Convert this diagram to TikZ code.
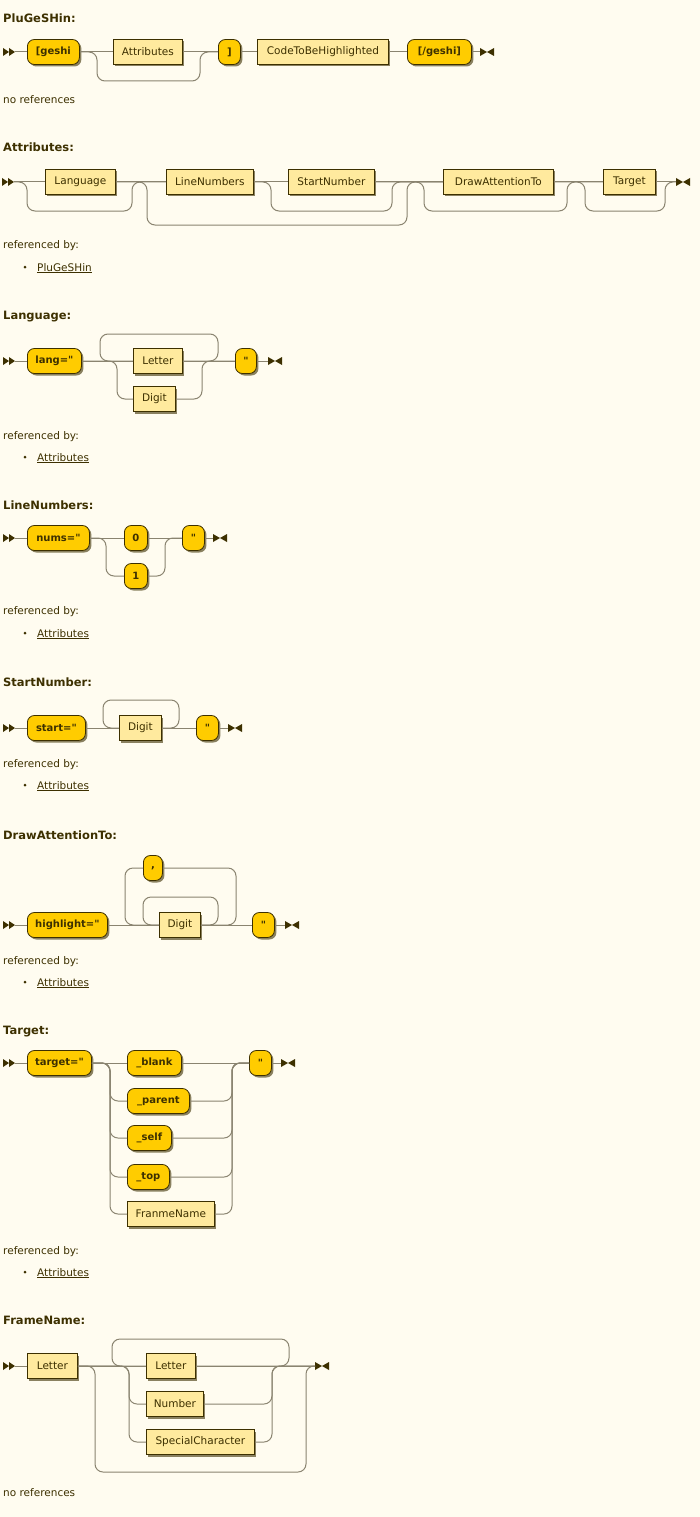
\documentclass[tikz,border=0pt]{standalone}
\usepackage{fontspec}
\newfontfamily\rrfont{DejaVu Sans}
\usetikzlibrary{shadows}
\definecolor{paper}{HTML}{FFFCF0}
\definecolor{ink}{HTML}{3D3000}
\definecolor{gold}{HTML}{FFCC00}
\definecolor{pale}{HTML}{FFEA9E}
\definecolor{railc}{HTML}{8A8470}
\begin{document}
\begin{tikzpicture}[x=1pt,y=-1pt,
  box/.style={draw=ink,line width=.8pt,minimum height=25,inner sep=0pt,anchor=west,text=ink,
    drop shadow={shadow xshift=2pt,shadow yshift=-2pt,fill=ink,opacity=.6}},
  term/.style={box,fill=gold,rounded corners=7pt,font=\rrfont\fontsize{10}{12}\selectfont\bfseries},
  nont/.style={box,fill=pale,font=\rrfont\fontsize{10.5}{12}\selectfont},
  rail/.style={railc,line width=1pt,rounded corners=8pt},
  title/.style={anchor=base west,inner sep=0pt,text=ink,font=\rrfont\fontsize{11.5}{13}\selectfont\bfseries},
  note/.style={anchor=base west,inner sep=0pt,text=ink,font=\rrfont\fontsize{10.5}{12}\selectfont},
  dot/.style={circle,fill=ink,inner sep=0pt,minimum size=3},
  startmark/.pic={\fill[ink] (0,-4) -- (6,0) -- (0,4) -- cycle (6,-4) -- (12,0) -- (6,4) -- cycle;},
  endmark/.pic={\fill[ink] (0,-4) -- (7,0) -- (0,4) -- cycle (14,-4) -- (7,0) -- (14,4) -- cycle;}]
\fill[paper] (0,0) rectangle (700,1517);
\useasboundingbox (0,0) rectangle (700,1517);

% PluGeSHin
\node[title] (t1) at (3,23) {PluGeSHin:};
\pic at (3,52) {startmark};
\coordinate (s1) at (15,52);
\node[term,minimum width=52] (geshi) at (27,52) {[geshi};
\node[nont,minimum width=69] (attr) at (113,52) {Attributes};
\node[term,minimum width=22] (rbr) at (218,52) {]};
\node[nont,minimum width=131] (code) at (257,52) {CodeToBeHighlighted};
\node[term,minimum width=64] (egeshi) at (407,52) {[/geshi]};
\pic at (480,52) {endmark};
\coordinate (e1) at (480,52);
\draw[rail] (s1) -- (geshi.west) (geshi.east) -- (attr.west) (attr.east) -- (rbr.west)
  (rbr.east) -- (code.west) (code.east) -- (egeshi.west) (egeshi.east) -- (e1);
\draw[rail] (geshi.east) -| (97,81) -| (200,52) -- (rbr.west);
\node[note] (n1) at (3,104) {no references};

% Attributes
\node[title] (t2) at (3,152) {Attributes:};
\pic at (2,182) {startmark};
\coordinate (s2) at (14,182);
\node[nont,minimum width=70] (lang) at (45,182) {Language};
\node[nont,minimum width=87] (nums) at (166,182) {LineNumbers};
\node[nont,minimum width=86] (start) at (288,182) {StartNumber};
\node[nont,minimum width=110] (dat) at (443,182) {DrawAttentionTo};
\node[nont,minimum width=52] (tgt) at (603,182) {Target};
\pic at (676,182) {endmark};
\coordinate (e2) at (676,182);
\draw[rail] (s2) -- (lang.west) (lang.east) -- (nums.west) (nums.east) -- (start.west)
  (start.east) -- (dat.west) (dat.east) -- (tgt.west) (tgt.east) -- (e2);
\draw[rail] (s2) -| (27,211) -| (132,182) -- (nums.west);
\draw[rail] (lang.east) -| (147,225) -| (407,182) -- (dat.west);
\draw[rail] (nums.east) -| (271,211) -| (392,182) -- (dat.west);
\draw[rail] (start.east) -| (424,211) -| (567,182) -- (tgt.west);
\draw[rail] (dat.east) -| (585,211) -| (665,182) -- (e2);
\node[note] (n2) at (3,248) {referenced by:};
\node[dot] (b2) at (25,267) {};
\node[note] (l2) at (37,271) {\underline{PluGeSHin}};

% Language
\node[title] (t3) at (3,319) {Language:};
\pic at (3,361) {startmark};
\coordinate (s3) at (15,361);
\node[term,minimum width=54] (langq) at (27,361) {lang="};
\node[nont,minimum width=49] (letter) at (133,361) {Letter};
\node[nont,minimum width=42] (digit) at (133,399) {Digit};
\node[term,minimum width=21] (q3) at (235,361) {"};
\pic at (268,361) {endmark};
\coordinate (e3) at (268,361);
\draw[rail] (s3) -- (langq.west) (langq.east) -- (letter.west) (letter.east) -- (q3.west) (q3.east) -- (e3);
\draw[rail] (langq.east) -| (117,399) -- (digit.west);
\draw[rail] (digit.east) -| (202,361) -- (q3.west);
\draw[rail] (letter.east) -| (218,334) -| (100,361) -- (letter.west);
\node[note] (n3) at (3,439) {referenced by:};
\node[dot] (b3) at (25,457) {};
\node[note] (l3) at (37,461) {\underline{Attributes}};

% LineNumbers
\node[title] (t4) at (3,509) {LineNumbers:};
\pic at (3,538) {startmark};
\coordinate (s4) at (15,538);
\node[term,minimum width=62] (numsq) at (27,538) {nums="};
\node[term,minimum width=23] (zero) at (124,538) {0};
\node[term,minimum width=23] (one) at (124,576) {1};
\node[term,minimum width=22] (q4) at (182,538) {"};
\pic at (213,538) {endmark};
\coordinate (e4) at (213,538);
\draw[rail] (s4) -- (numsq.west) (numsq.east) -- (zero.west) (zero.east) -- (q4.west) (q4.east) -- (e4);
\draw[rail] (numsq.east) -| (106,576) -- (one.west);
\draw[rail] (one.east) -| (165,538) -- (q4.west);
\node[note] (n4) at (3,614) {referenced by:};
\node[dot] (b4) at (25,633) {};
\node[note] (l4) at (37,637) {\underline{Attributes}};

% StartNumber
\node[title] (t5) at (3,686) {StartNumber:};
\pic at (3,728) {startmark};
\coordinate (s5) at (15,728);
\node[term,minimum width=58] (startq) at (27,728) {start="};
\node[nont,minimum width=42] (sdigit) at (119,728) {Digit};
\node[term,minimum width=22] (q5) at (196,728) {"};
\pic at (228,728) {endmark};
\coordinate (e5) at (228,728);
\draw[rail] (s5) -- (startq.west) (startq.east) -- (sdigit.west) (sdigit.east) -- (q5.west) (q5.east) -- (e5);
\draw[rail] (sdigit.east) -| (179,700) -| (103,728) -- (sdigit.west);
\node[note] (n5) at (3,767) {referenced by:};
\node[dot] (b5) at (25,785) {};
\node[note] (l5) at (37,789) {\underline{Attributes}};

% DrawAttentionTo
\node[title] (t6) at (3,839) {DrawAttentionTo:};
\pic at (3,925) {startmark};
\coordinate (s6) at (15,925);
\node[term,minimum width=80] (hq) at (27,925) {highlight="};
\node[nont,minimum width=41] (ddigit) at (159,925) {Digit};
\node[term,minimum width=19] (comma) at (143,868) {,};
\node[term,minimum width=22] (q6) at (252,925) {"};
\pic at (285,925) {endmark};
\coordinate (e6) at (285,925);
\draw[rail] (s6) -- (hq.west) (hq.east) -- (ddigit.west) (ddigit.east) -- (q6.west) (q6.east) -- (e6);
\draw[rail] (ddigit.east) -| (236,868) -- (comma.east);
\draw[rail] (comma.west) -| (125,925) -- (ddigit.west);
\draw[rail] (ddigit.east) -| (218,897) -| (143,925) -- (ddigit.west);
\node[note] (n6) at (3,964) {referenced by:};
\node[dot] (b6) at (25,982) {};
\node[note] (l6) at (37,986) {\underline{Attributes}};

% Target
\node[title] (t7) at (3,1034) {Target:};
\pic at (3,1063) {startmark};
\coordinate (s7) at (15,1063);
\node[term,minimum width=64] (tq) at (27,1063) {target="};
\node[term,minimum width=54] (blank) at (127,1063) {\_blank};
\node[term,minimum width=62] (parent) at (127,1101) {\_parent};
\node[term,minimum width=44] (self) at (127,1138) {\_self};
\node[term,minimum width=42] (top) at (127,1177) {\_top};
\node[nont,minimum width=87] (fname) at (127,1214) {FranmeName};
\node[term,minimum width=22] (q7) at (249,1063) {"};
\pic at (281,1063) {endmark};
\coordinate (e7) at (281,1063);
\draw[rail] (s7) -- (tq.west) (tq.east) -- (blank.west) (blank.east) -- (q7.west) (q7.east) -- (e7);
\draw[rail] (tq.east) -| (110,1101) -- (parent.west);
\draw[rail] (tq.east) -| (110,1138) -- (self.west);
\draw[rail] (tq.east) -| (110,1177) -- (top.west);
\draw[rail] (tq.east) -| (110,1214) -- (fname.west);
\draw[rail] (parent.east) -| (232,1063) -- (q7.west);
\draw[rail] (self.east) -| (232,1063) -- (q7.west);
\draw[rail] (top.east) -| (232,1063) -- (q7.west);
\draw[rail] (fname.east) -| (232,1063) -- (q7.west);
\node[note] (n7) at (3,1254) {referenced by:};
\node[dot] (b7) at (25,1272) {};
\node[note] (l7) at (37,1276) {\underline{Attributes}};

% FrameName
\node[title] (t8) at (3,1324) {FrameName:};
\pic at (3,1366) {startmark};
\coordinate (s8) at (15,1366);
\node[nont,minimum width=50] (fl1) at (27,1366) {Letter};
\node[nont,minimum width=49] (fl2) at (146,1366) {Letter};
\node[nont,minimum width=57] (fnum) at (146,1404) {Number};
\node[nont,minimum width=108] (fspec) at (146,1442) {SpecialCharacter};
\pic at (315,1366) {endmark};
\coordinate (e8) at (315,1366);
\draw[rail] (s8) -- (fl1.west) (fl1.east) -- (fl2.west) (fl2.east) -- (e8);
\draw[rail] (fl1.east) -| (129,1404) -- (fnum.west);
\draw[rail] (fl1.east) -| (129,1442) -- (fspec.west);
\draw[rail] (fnum.east) -| (272,1366) -- (e8);
\draw[rail] (fspec.east) -| (272,1366) -- (e8);
\draw[rail] (fl2.east) -| (289,1339) -| (112,1366) -- (fl2.west);
\draw[rail] (fl1.east) -| (95,1472) -| (306,1366) -- (e8);
\node[note] (n8) at (3,1496) {no references};
\end{tikzpicture}
\end{document}
